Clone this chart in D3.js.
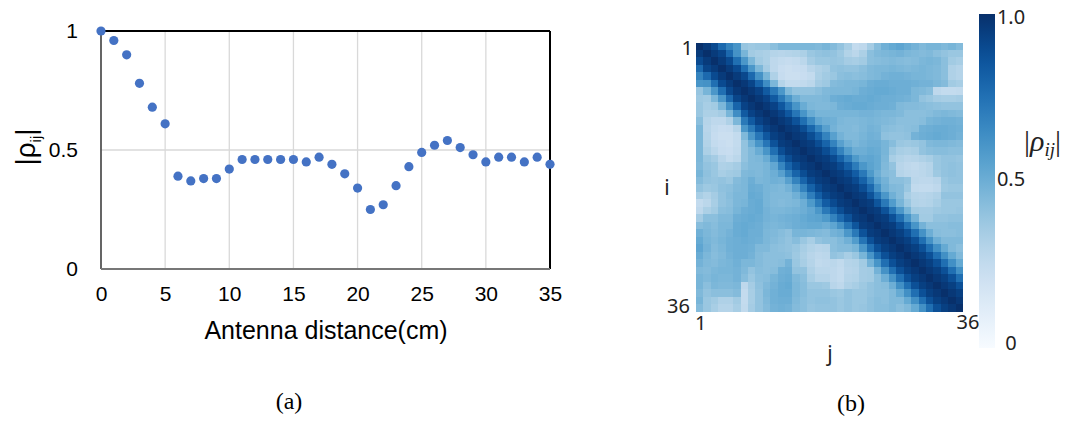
<!DOCTYPE html>
<html><head><meta charset="utf-8">
<script src="https://cdn.jsdelivr.net/npm/d3@7"></script>
<style>html,body{margin:0;padding:0;background:#fff;}svg{display:block;}</style>
</head><body>
<svg id="c" width="1067" height="423"></svg>
<script>
// ---- data: panel (a) ----
const distances = d3.range(0, 36);
const rhoValues = [1.00,0.96,0.90,0.78,0.68,0.61,0.39,0.37,0.38,0.38,0.42,0.46,0.46,0.46,0.46,0.46,0.45,0.47,0.44,0.40,0.34,0.25,0.27,0.35,0.43,0.49,0.52,0.54,0.51,0.48,0.45,0.47,0.47,0.45,0.47,0.44];
const xTicks = [0,5,10,15,20,25,30,35];
const yTicks = [0,0.5,1];

// ---- data: panel (b), upper triangle rows (row i holds j = i..35) ----
const upperRows = [
[1.00,0.96,0.90,0.78,0.68,0.61,0.39,0.37,0.38,0.38,0.42,0.46,0.46,0.46,0.46,0.46,0.45,0.47,0.44,0.40,0.34,0.25,0.27,0.35,0.43,0.49,0.52,0.54,0.51,0.48,0.45,0.47,0.47,0.45,0.47,0.44],
[1.00,0.96,0.92,0.78,0.62,0.47,0.36,0.34,0.33,0.30,0.29,0.30,0.31,0.33,0.38,0.40,0.41,0.40,0.37,0.31,0.28,0.33,0.42,0.45,0.46,0.47,0.48,0.46,0.45,0.44,0.45,0.42,0.40,0.38,0.38],
[1.00,0.96,0.90,0.76,0.60,0.46,0.36,0.33,0.27,0.25,0.24,0.25,0.28,0.35,0.38,0.38,0.39,0.38,0.35,0.34,0.36,0.42,0.43,0.44,0.45,0.44,0.43,0.44,0.46,0.47,0.46,0.42,0.36,0.34],
[1.00,0.96,0.90,0.76,0.60,0.46,0.35,0.27,0.23,0.22,0.23,0.24,0.29,0.32,0.34,0.40,0.41,0.40,0.40,0.42,0.45,0.46,0.46,0.47,0.46,0.45,0.46,0.47,0.46,0.45,0.42,0.32,0.30],
[1.00,0.96,0.91,0.78,0.62,0.47,0.32,0.24,0.22,0.22,0.23,0.25,0.33,0.36,0.38,0.42,0.43,0.42,0.43,0.45,0.46,0.48,0.49,0.49,0.48,0.47,0.47,0.46,0.45,0.42,0.32,0.30],
[1.00,0.97,0.92,0.80,0.64,0.46,0.30,0.25,0.25,0.26,0.28,0.35,0.37,0.44,0.45,0.46,0.46,0.47,0.50,0.51,0.51,0.50,0.50,0.50,0.49,0.48,0.48,0.46,0.44,0.36,0.34],
[1.00,0.97,0.93,0.84,0.72,0.60,0.45,0.40,0.40,0.40,0.42,0.45,0.46,0.46,0.46,0.47,0.50,0.51,0.52,0.52,0.51,0.50,0.50,0.46,0.45,0.43,0.27,0.25,0.25,0.26],
[1.00,0.97,0.93,0.84,0.72,0.60,0.50,0.45,0.45,0.45,0.46,0.50,0.51,0.52,0.51,0.51,0.52,0.51,0.50,0.50,0.49,0.48,0.46,0.40,0.38,0.35,0.34,0.34,0.35],
[1.00,0.97,0.93,0.85,0.73,0.61,0.51,0.46,0.45,0.45,0.46,0.50,0.51,0.52,0.52,0.51,0.50,0.50,0.49,0.45,0.44,0.44,0.43,0.42,0.41,0.40,0.40,0.40],
[1.00,0.97,0.93,0.85,0.73,0.61,0.51,0.47,0.47,0.47,0.47,0.47,0.47,0.48,0.48,0.47,0.46,0.46,0.45,0.42,0.42,0.42,0.43,0.45,0.46,0.45,0.44],
[1.00,0.97,0.94,0.87,0.76,0.64,0.53,0.50,0.49,0.46,0.45,0.45,0.46,0.47,0.46,0.45,0.44,0.42,0.42,0.42,0.43,0.47,0.48,0.49,0.49,0.48],
[1.00,0.97,0.95,0.89,0.79,0.67,0.56,0.48,0.45,0.45,0.44,0.46,0.48,0.47,0.43,0.42,0.41,0.42,0.43,0.49,0.50,0.51,0.51,0.50,0.49],
[1.00,0.97,0.95,0.89,0.80,0.68,0.56,0.48,0.45,0.45,0.47,0.49,0.48,0.41,0.40,0.40,0.41,0.48,0.50,0.51,0.52,0.51,0.50,0.48],
[1.00,0.97,0.95,0.89,0.80,0.68,0.56,0.49,0.46,0.48,0.50,0.50,0.47,0.43,0.38,0.37,0.38,0.40,0.45,0.46,0.46,0.45,0.44],
[1.00,0.97,0.95,0.89,0.80,0.68,0.57,0.50,0.50,0.52,0.51,0.47,0.38,0.34,0.33,0.34,0.40,0.42,0.43,0.43,0.42,0.42],
[1.00,0.97,0.95,0.90,0.81,0.70,0.59,0.53,0.54,0.52,0.46,0.34,0.31,0.29,0.30,0.32,0.34,0.38,0.40,0.40,0.39],
[1.00,0.97,0.95,0.90,0.82,0.71,0.60,0.55,0.52,0.45,0.40,0.29,0.27,0.26,0.28,0.30,0.38,0.40,0.41,0.40],
[1.00,0.97,0.95,0.91,0.83,0.72,0.59,0.50,0.44,0.42,0.30,0.28,0.27,0.28,0.30,0.37,0.40,0.41,0.40],
[1.00,0.97,0.95,0.90,0.81,0.68,0.54,0.48,0.42,0.42,0.40,0.28,0.27,0.27,0.29,0.38,0.40,0.40],
[1.00,0.97,0.95,0.89,0.78,0.62,0.50,0.45,0.44,0.38,0.26,0.25,0.25,0.27,0.37,0.38,0.38],
[1.00,0.97,0.95,0.87,0.74,0.60,0.49,0.44,0.34,0.30,0.29,0.30,0.32,0.40,0.40,0.40],
[1.00,0.97,0.95,0.86,0.72,0.58,0.47,0.38,0.31,0.30,0.31,0.34,0.38,0.38,0.38],
[1.00,0.97,0.95,0.87,0.74,0.60,0.47,0.36,0.35,0.35,0.37,0.38,0.38,0.39],
[1.00,0.97,0.95,0.88,0.76,0.61,0.48,0.36,0.36,0.40,0.40,0.41,0.41],
[1.00,0.97,0.95,0.88,0.76,0.61,0.48,0.42,0.42,0.42,0.43,0.43],
[1.00,0.97,0.94,0.88,0.76,0.62,0.50,0.43,0.42,0.42,0.43],
[1.00,0.97,0.94,0.88,0.76,0.62,0.50,0.45,0.45,0.45],
[1.00,0.97,0.94,0.88,0.76,0.63,0.52,0.45,0.42],
[1.00,0.97,0.94,0.88,0.76,0.63,0.52,0.45],
[1.00,0.97,0.94,0.88,0.76,0.63,0.52],
[1.00,0.97,0.94,0.88,0.76,0.63],
[1.00,0.97,0.94,0.88,0.76],
[1.00,0.97,0.94,0.88],
[1.00,0.97,0.94],
[1.00,0.97],
[1.00]
];
const matrixLabels = ["1","36"];
const colorbarTicks = [1.0,0.5,0];

// correlation matrix is symmetric: cell (i,j) read from the upper-triangle rows
const N = upperRows.length;
const cells = [];
for (let i = 0; i < N; i++) for (let j = 0; j < N; j++) {
  const v = j >= i ? upperRows[i][j - i] : upperRows[j][i - j];
  cells.push({i, j, v});
}

const svg = d3.select("#c");
const sans = "'Liberation Sans', Arial, sans-serif";

// ================= Panel (a) =================
const x = d3.scaleLinear().domain([0, 35]).range([101, 550]);
const y = d3.scaleLinear().domain([0, 1]).range([269, 31]);
const ga = svg.append("g");

ga.selectAll("line.vg").data(xTicks.filter(t => t > 0 && t < 35)).join("line")
  .attr("x1", d => x(d)).attr("x2", d => x(d)).attr("y1", y(0)).attr("y2", y(1))
  .attr("stroke", "#d9d9d9").attr("stroke-width", 1.3);
ga.selectAll("line.hg").data([0.5]).join("line")
  .attr("x1", x(0)).attr("x2", x(35)).attr("y1", d => y(d)).attr("y2", d => y(d))
  .attr("stroke", "#d9d9d9").attr("stroke-width", 1.3);

// frame
ga.append("line").attr("x1", x(0)).attr("x2", x(35)).attr("y1", y(1)).attr("y2", y(1)).attr("stroke", "#000").attr("stroke-width", 2);
ga.append("line").attr("x1", x(35)).attr("x2", x(35)).attr("y1", y(1)).attr("y2", y(0)).attr("stroke", "#000").attr("stroke-width", 2);
ga.append("line").attr("x1", x(0)).attr("x2", x(0)).attr("y1", y(1)).attr("y2", y(0)).attr("stroke", "#555").attr("stroke-width", 1.8);
ga.append("line").attr("x1", x(0)).attr("x2", x(35)).attr("y1", y(0)).attr("y2", y(0)).attr("stroke", "#777").attr("stroke-width", 2);

const xAxis = ga.append("g").attr("transform", `translate(0,${y(0) + 14})`)
  .call(d3.axisBottom(x).tickValues(xTicks).tickSize(0).tickFormat(d3.format("d")));
xAxis.select(".domain").remove();
xAxis.selectAll("text").attr("font-family", sans).attr("font-size", 21).attr("fill", "#000");

const yAxis = ga.append("g").attr("transform", `translate(${x(0) - 20},0)`)
  .call(d3.axisLeft(y).tickValues(yTicks).tickSize(0).tickFormat(d => d === 0.5 ? "0.5" : d3.format("d")(d)));
yAxis.select(".domain").remove();
yAxis.selectAll("text").attr("font-family", sans).attr("font-size", 21).attr("fill", "#000");

ga.selectAll("circle").data(distances).join("circle")
  .attr("cx", d => x(d)).attr("cy", (d, k) => y(rhoValues[k])).attr("r", 4.6)
  .attr("fill", "#4472C4");

ga.append("text").attr("x", 326).attr("y", 339).attr("text-anchor", "middle")
  .attr("font-family", sans).attr("font-size", 25).attr("fill", "#000").text("Antenna distance(cm)");

const yl = ga.append("text").attr("transform", "translate(35,147) rotate(-90)")
  .attr("text-anchor", "middle").attr("font-family", sans).attr("font-size", 28).attr("fill", "#000");
yl.append("tspan").text("|ρ");
yl.append("tspan").attr("font-size", 15).attr("dy", 6).text("ij");
yl.append("tspan").attr("dy", -6).text("|");

svg.append("text").attr("x", 289).attr("y", 409).attr("text-anchor", "middle")
  .attr("font-family", "'Liberation Serif', serif").attr("font-size", 24).attr("fill", "#000").text("(a)");

// ================= Panel (b) =================
const idx = d3.range(N);
const cx = d3.scaleBand().domain(idx).range([696, 963]).padding(0);
const cy = d3.scaleBand().domain(idx).range([42.5, 311.5]).padding(0);
const color = d3.scaleSequential(d3.interpolateBlues).domain([0, 1]);
const gb = svg.append("g").attr("shape-rendering", "crispEdges");
gb.selectAll("rect").data(cells).join("rect")
  .attr("x", d => cx(d.j)).attr("y", d => cy(d.i))
  .attr("width", cx.bandwidth() + 0.4).attr("height", cy.bandwidth() + 0.4)
  .attr("fill", d => color(d.v));

const lab = "'Noto Sans', 'DejaVu Sans', sans-serif";
svg.append("text").attr("x", 693).attr("y", 55).attr("text-anchor", "end").attr("font-family", lab).attr("font-size", 20).attr("fill", "#222").text(matrixLabels[0]);
svg.append("text").attr("x", 690).attr("y", 313).attr("text-anchor", "end").attr("font-family", lab).attr("font-size", 20).attr("fill", "#222").text(matrixLabels[1]);
svg.append("text").attr("x", cx(0) - 1).attr("y", 330).attr("text-anchor", "start").attr("font-family", lab).attr("font-size", 20).attr("fill", "#222").text(matrixLabels[0]);
svg.append("text").attr("x", cx(N - 1) + 1).attr("y", 329).attr("text-anchor", "start").attr("font-family", lab).attr("font-size", 20).attr("fill", "#222").text(matrixLabels[1]);
svg.append("text").attr("x", 667).attr("y", 195).attr("text-anchor", "middle").attr("font-family", lab).attr("font-size", 21).attr("fill", "#222").text("i");
svg.append("text").attr("x", 830).attr("y", 361).attr("text-anchor", "middle").attr("font-family", lab).attr("font-size", 21).attr("fill", "#222").text("j");

// colorbar
const cb = d3.scaleLinear().domain([0, 1]).range([348, 14]);
const defs = svg.append("defs");
const grad = defs.append("linearGradient").attr("id", "cbg").attr("x1", 0).attr("y1", 1).attr("x2", 0).attr("y2", 0);
grad.selectAll("stop").data(d3.range(0, 1.0001, 0.05)).join("stop")
  .attr("offset", d => d).attr("stop-color", d => color(d));
svg.append("rect").attr("x", 979).attr("y", cb(1)).attr("width", 16).attr("height", cb(0) - cb(1)).attr("fill", "url(#cbg)");
const cbOff = {1: 10, 0.5: 5, 0: 2};
svg.selectAll("text.cbt").data(colorbarTicks).join("text").attr("class", "cbt")
  .attr("x", 1011).attr("y", d => cb(d) + cbOff[d]).attr("text-anchor", "middle")
  .attr("font-family", lab).attr("font-size", 20).attr("fill", "#222")
  .text(d => d === 0 ? "0" : d3.format(".1f")(d));

const cl = svg.append("text").attr("x", 1024).attr("y", 151)
  .attr("font-family", "'Liberation Serif', serif").attr("font-size", 30).attr("fill", "#222");
cl.append("tspan").text("|");
cl.append("tspan").attr("font-style", "italic").text("ρ");
cl.append("tspan").attr("font-style", "italic").attr("font-size", 19).attr("dy", 5).text("ij");
cl.append("tspan").attr("dy", -5).text("|");

svg.append("text").attr("x", 851).attr("y", 411).attr("text-anchor", "middle")
  .attr("font-family", "'Liberation Serif', serif").attr("font-size", 24).attr("fill", "#000").text("(b)");
</script>
</body></html>
